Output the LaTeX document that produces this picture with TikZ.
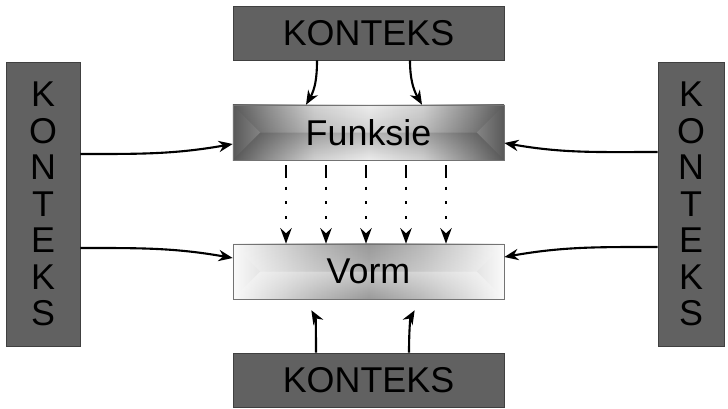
\documentclass[tikz,border=0pt]{standalone}
\usepackage{fontspec}
\setmainfont{Liberation Sans}
\usetikzlibrary{arrows.meta,fadings}

\pgfdeclarehorizontalshading{funksieskadu}{100bp}{color(0bp)=(black!65); color(25bp)=(black!65);
  color(31bp)=(black!45); color(40bp)=(black!18); color(50bp)=(black!7);
  color(60bp)=(black!18); color(69bp)=(black!45); color(75bp)=(black!65); color(100bp)=(black!65)}
\pgfdeclarehorizontalshading{vormskadu}{100bp}{color(0bp)=(black!2); color(25bp)=(black!2);
  color(32bp)=(black!14); color(40bp)=(black!27); color(50bp)=(black!40);
  color(60bp)=(black!27); color(68bp)=(black!14); color(75bp)=(black!2); color(100bp)=(black!2)}

\begin{document}
\begin{tikzpicture}[x=0.025cm,y=0.025cm,
   every node/.style={font=\fontsize{25.5}{26}\selectfont,inner sep=0pt},
   konteks/.style={draw=black!75,fill=black!62,minimum width=6.775cm,minimum height=1.35cm},
   sykonteks/.style={draw=black!75,fill=black!62,minimum height=7.1cm,align=center},
   blok/.style={draw=black!55,minimum width=6.775cm,minimum height=1.375cm},
   strik/.style 2 args={path picture={
      \fill[#1,fill opacity=#2,path fading=north]
         (path picture bounding box.north west) -- (path picture bounding box.north east)
         -- ([xshift=-0.6875cm]path picture bounding box.east)
         -- ([xshift=0.6875cm]path picture bounding box.west) -- cycle;
      \fill[#1,fill opacity=#2,path fading=south]
         (path picture bounding box.south west) -- (path picture bounding box.south east)
         -- ([xshift=-0.6875cm]path picture bounding box.east)
         -- ([xshift=0.6875cm]path picture bounding box.west) -- cycle;}},
   pyl/.style={-{Stealth[length=10pt,width=8pt]},line width=1.5pt},
   stippel/.style={-{Stealth[length=11pt,width=8pt]},line width=2pt,
      dash pattern=on 9.2pt off 6pt on 2.1pt off 8.5pt on 2.1pt off 8.5pt on 2.1pt off 21pt,
      shorten <=3.5pt}]
   \useasboundingbox (0,0) rectangle (728,-408);

   \node[konteks] (topctx) at (368.5,-33) {KONTEKS};
   \node[konteks] (botctx) at (368.5,-380) {KONTEKS};
   \node[sykonteks,minimum width=1.85cm] (leftctx) at (43,-204) {K\\O\\N\\T\\E\\K\\S};
   \node[sykonteks,minimum width=1.65cm] (rightctx) at (691,-204) {K\\O\\N\\T\\E\\K\\S};
   \node[blok,shading=funksieskadu,strik={black}{0.24}] (funksie) at (368.5,-132.5) {Funksie};
   \node[blok,shading=vormskadu,strik={white}{0.45}] (vorm) at (368.5,-271.5) {Vorm};

   % konteks bo en onder
   \draw[pyl] (317,0 |- topctx.south) to[out=-90,in=60] (306,0 |- funksie.north);
   \draw[pyl] (410,0 |- topctx.south) to[out=-90,in=120] (422,0 |- funksie.north);
   \draw[pyl,shorten >=9pt] (316,0 |- botctx.north) to[out=90,in=-60] (305,0 |- vorm.south);
   \draw[pyl,shorten >=9pt] (409,0 |- botctx.north) to[out=90,in=-120] (421,0 |- vorm.south);

   % konteks links en regs
   \draw[pyl] (leftctx.east |- 0,-154) to[out=0,in=190] (funksie.west |- 0,-144);
   \draw[pyl] (leftctx.east |- 0,-248) to[out=0,in=170] (vorm.west |- 0,-258);
   \draw[pyl] (rightctx.west |- 0,-152) to[out=180,in=-10] (funksie.east |- 0,-143);
   \draw[pyl] (rightctx.west |- 0,-247) to[out=180,in=10] (vorm.east |- 0,-257);

   % funksie na vorm
   \foreach \x in {286,326,366,406,446}
      \draw[stippel] (\x,0 |- funksie.south) -- (\x,0 |- vorm.north);
\end{tikzpicture}
\end{document}
